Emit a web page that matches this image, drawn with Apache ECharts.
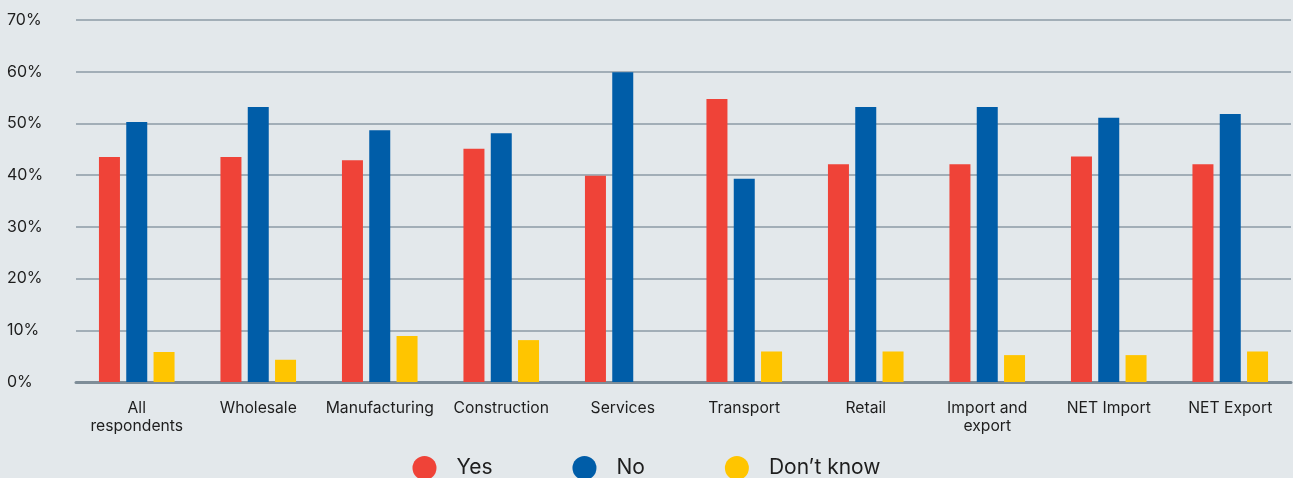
<!DOCTYPE html>
<html>
<head>
<meta charset="utf-8">
<script src="https://cdn.jsdelivr.net/npm/echarts@6/dist/echarts.min.js"></script>
<style>
html,body{margin:0;padding:0;background:#e3e8eb;}
#chart{width:1293px;height:478px;}
</style>
</head>
<body>
<div id="chart"></div>
<script>
const categories = ['All\nrespondents','Wholesale','Manufacturing','Construction','Services','Transport','Retail','Import and\nexport','NET Import','NET Export'];
const yesValues = [43.5, 43.5, 42.9, 45.1, 39.9, 54.7, 42.1, 42.1, 43.6, 42.1];
const noValues = [50.3, 53.2, 48.7, 48.1, 59.9, 39.3, 53.2, 53.2, 51.1, 51.8];
const dontKnowValues = [5.8, 4.3, 8.9, 8.1, 0, 5.9, 5.9, 5.2, 5.2, 5.9];
const seriesNames = ['Yes', 'No', 'Don\u2019t know'];
const seriesColors = ['#ef4338', '#005da8', '#ffc500'];

const chart = echarts.init(document.getElementById('chart'), null, {renderer: 'canvas'});
const font = 'Inter, "Noto Sans", sans-serif';
const mk = (name, data, color) => ({
  name, type: 'bar', data, barWidth: 21, barGap: '30%',
  itemStyle: {color}, emphasis: {disabled: true}
});
chart.setOption({
  backgroundColor: '#e3e8eb',
  animation: false,
  textStyle: {fontFamily: font},
  legend: {
    data: seriesNames, top: 451, left: 'center',
    icon: 'circle', itemWidth: 24, itemHeight: 24, itemGap: 80,
    textStyle: {fontSize: 21, color: '#1e1e1e', fontFamily: font, padding: [0, 0, 0, 15]},
    selectedMode: false
  },
  grid: {left: 76, right: 2, top: 20, bottom: 96, containLabel: false},
  xAxis: {
    type: 'category', data: categories,
    axisLine: {show: true, lineStyle: {color: '#7e8d98', width: 3}},
    axisTick: {show: false},
    axisLabel: {fontSize: 15.7, color: '#1e1e1e', margin: 17, lineHeight: 18, interval: 0, fontFamily: font}
  },
  yAxis: {
    type: 'value', min: 0, max: 70, interval: 10,
    axisLine: {show: false}, axisTick: {show: false},
    splitLine: {lineStyle: {color: '#8c9ba6', width: 1.5}},
    axisLabel: {formatter: '{value}%', fontSize: 16, color: '#1e1e1e', align: 'left', margin: 69, fontFamily: font}
  },
  series: [
    mk(seriesNames[0], yesValues, seriesColors[0]),
    mk(seriesNames[1], noValues, seriesColors[1]),
    mk(seriesNames[2], dontKnowValues, seriesColors[2])
  ]
});
</script>
</body>
</html>
